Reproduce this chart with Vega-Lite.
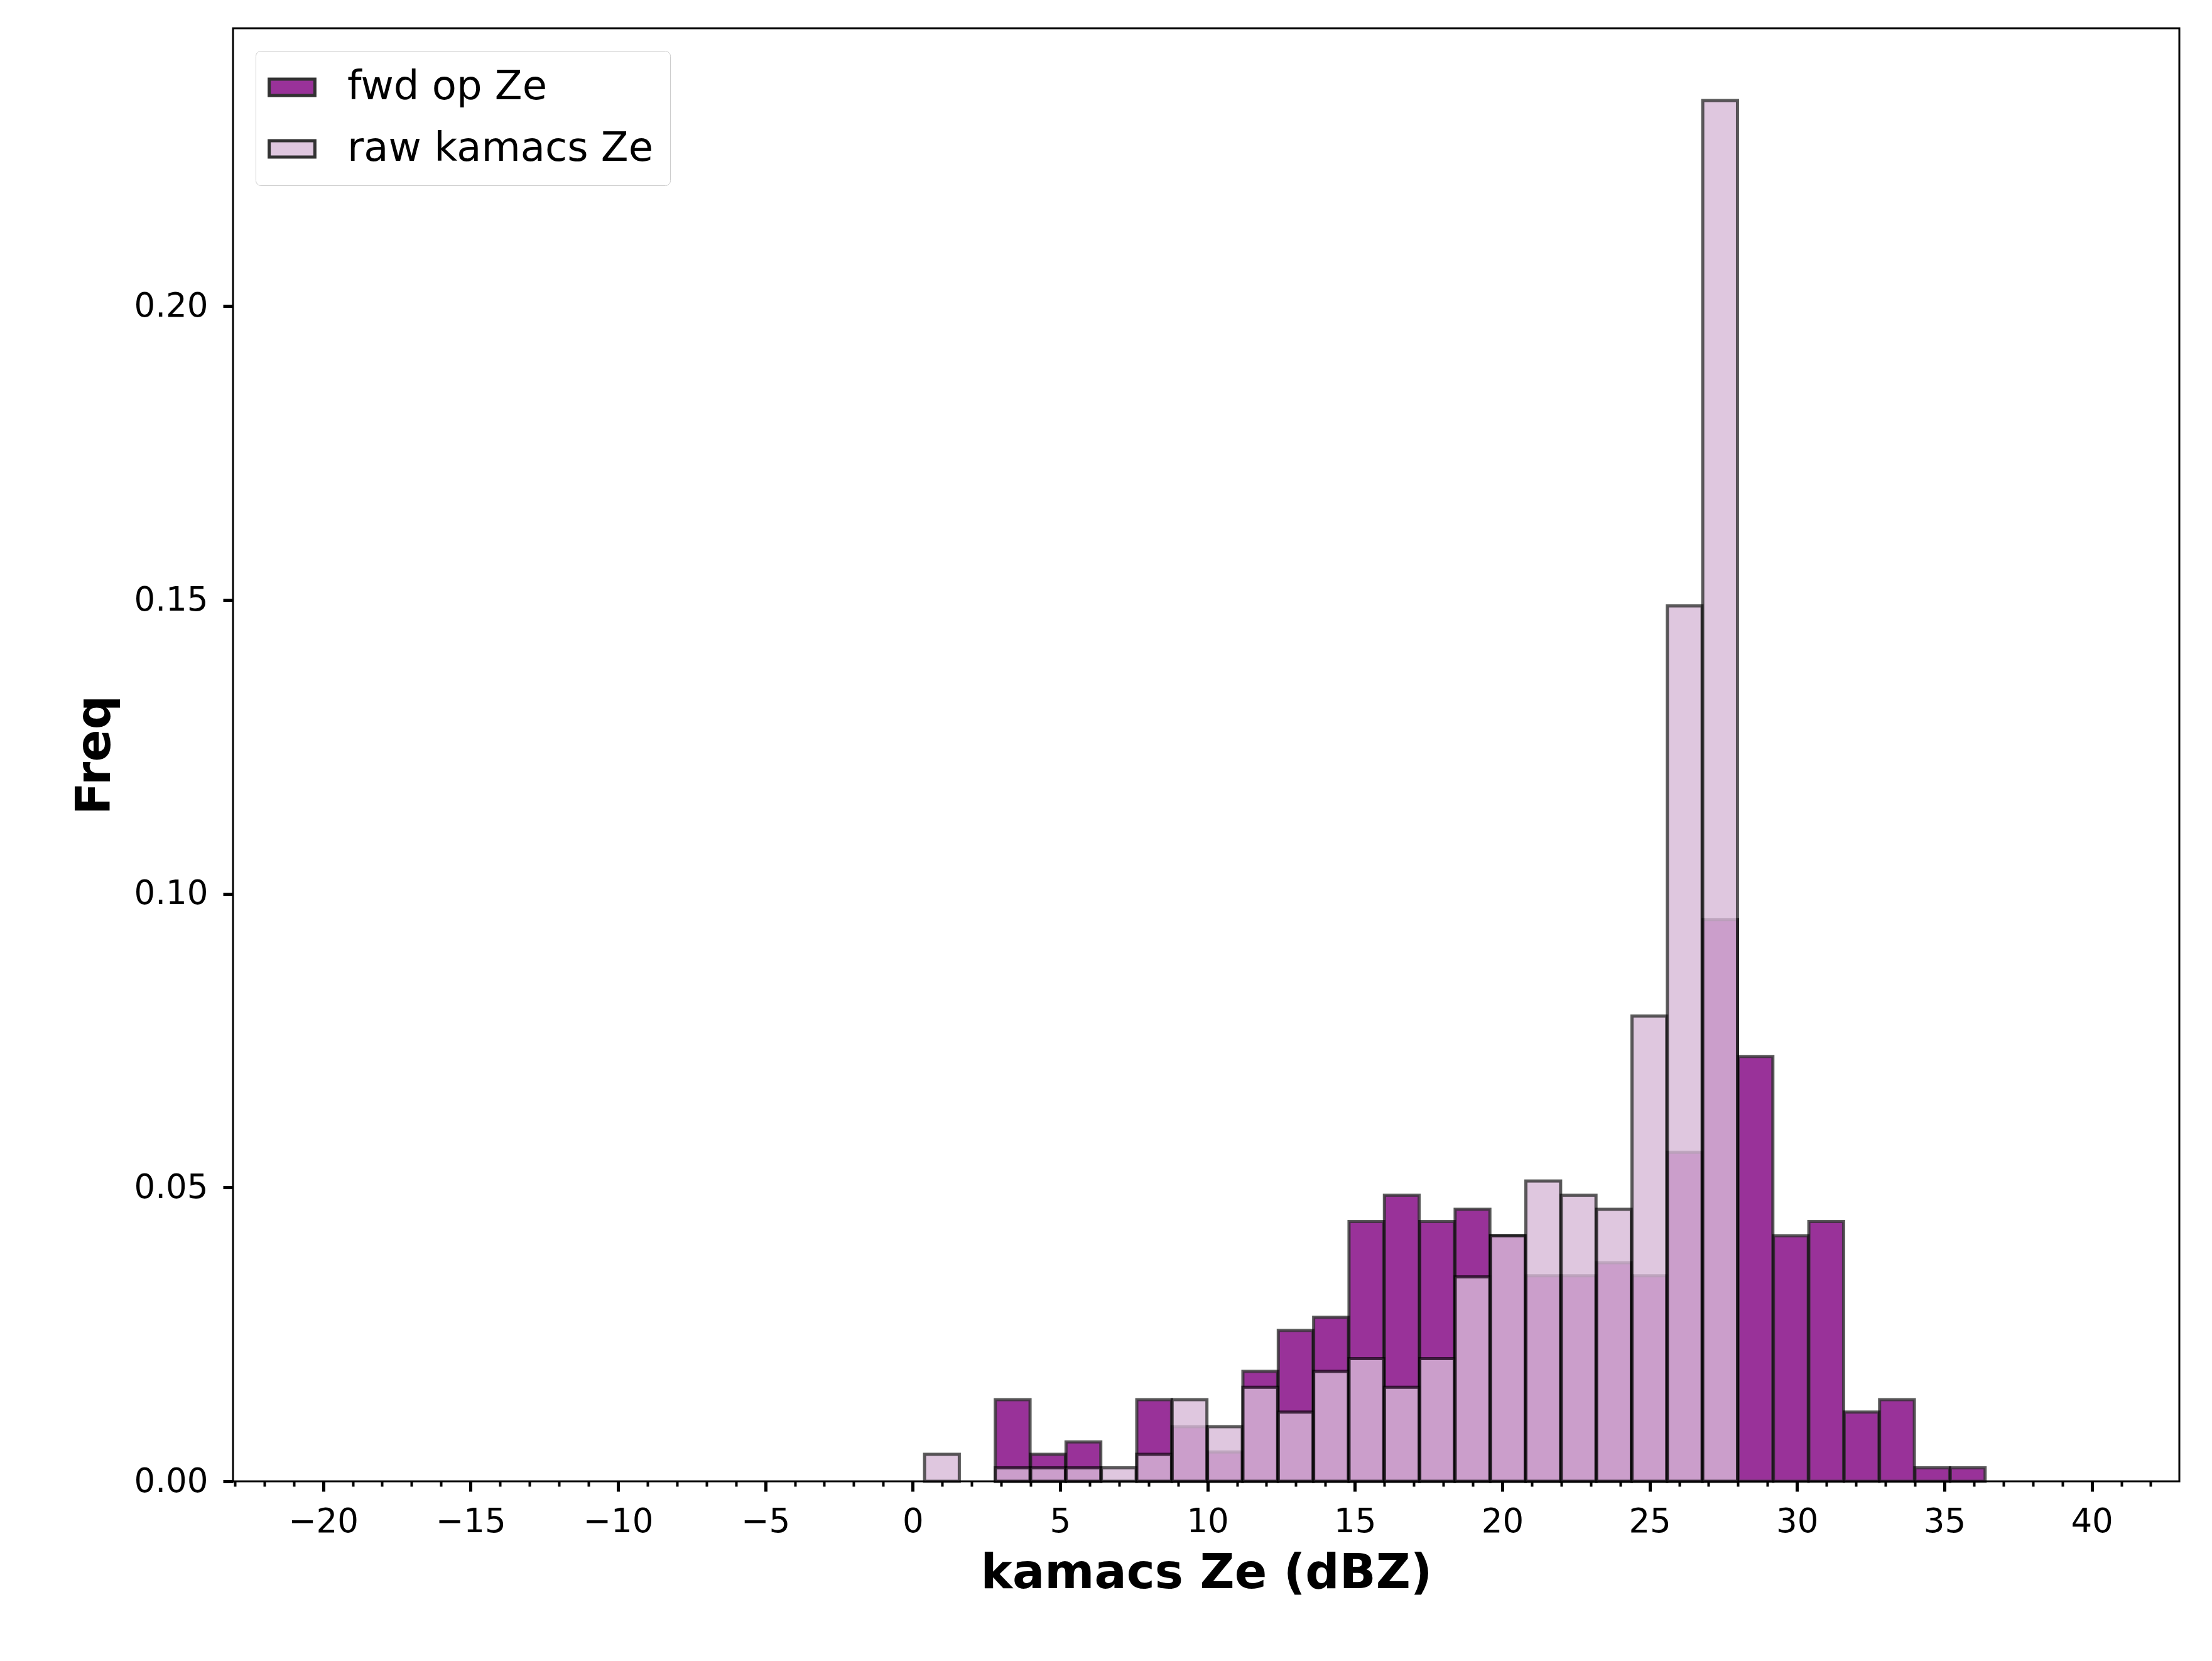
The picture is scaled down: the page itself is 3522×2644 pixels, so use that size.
{
  "$schema": "https://vega.github.io/schema/vega-lite/v6.json",
  "autosize": {"type": "none"},
  "padding": {"left": 371, "top": 45, "right": 52, "bottom": 286},
  "width": 3099,
  "height": 2313,
  "data": {
    "values": [
      {"series": "fwd op Ze", "lo": 2.78, "hi": 3.98, "freq": 0.0139},
      {"series": "fwd op Ze", "lo": 3.98, "hi": 5.18, "freq": 0.0046},
      {"series": "fwd op Ze", "lo": 5.18, "hi": 6.38, "freq": 0.0067},
      {"series": "fwd op Ze", "lo": 7.58, "hi": 8.78, "freq": 0.0139},
      {"series": "fwd op Ze", "lo": 8.78, "hi": 9.98, "freq": 0.0093},
      {"series": "fwd op Ze", "lo": 9.98, "hi": 11.18, "freq": 0.005},
      {"series": "fwd op Ze", "lo": 11.18, "hi": 12.38, "freq": 0.0187},
      {"series": "fwd op Ze", "lo": 12.38, "hi": 13.58, "freq": 0.0257},
      {"series": "fwd op Ze", "lo": 13.58, "hi": 14.78, "freq": 0.0279},
      {"series": "fwd op Ze", "lo": 14.78, "hi": 15.98, "freq": 0.0442},
      {"series": "fwd op Ze", "lo": 15.98, "hi": 17.18, "freq": 0.0487},
      {"series": "fwd op Ze", "lo": 17.18, "hi": 18.38, "freq": 0.0442},
      {"series": "fwd op Ze", "lo": 18.38, "hi": 19.58, "freq": 0.0463},
      {"series": "fwd op Ze", "lo": 19.58, "hi": 20.78, "freq": 0.0418},
      {"series": "fwd op Ze", "lo": 20.78, "hi": 21.98, "freq": 0.035},
      {"series": "fwd op Ze", "lo": 21.98, "hi": 23.18, "freq": 0.035},
      {"series": "fwd op Ze", "lo": 23.18, "hi": 24.38, "freq": 0.0372},
      {"series": "fwd op Ze", "lo": 24.38, "hi": 25.58, "freq": 0.035},
      {"series": "fwd op Ze", "lo": 25.58, "hi": 26.78, "freq": 0.056},
      {"series": "fwd op Ze", "lo": 26.78, "hi": 27.98, "freq": 0.0956},
      {"series": "fwd op Ze", "lo": 27.98, "hi": 29.18, "freq": 0.0723},
      {"series": "fwd op Ze", "lo": 29.18, "hi": 30.38, "freq": 0.0418},
      {"series": "fwd op Ze", "lo": 30.38, "hi": 31.58, "freq": 0.0442},
      {"series": "fwd op Ze", "lo": 31.58, "hi": 32.78, "freq": 0.0118},
      {"series": "fwd op Ze", "lo": 32.78, "hi": 33.98, "freq": 0.0139},
      {"series": "fwd op Ze", "lo": 33.98, "hi": 35.18, "freq": 0.0023},
      {"series": "fwd op Ze", "lo": 35.18, "hi": 36.38, "freq": 0.0023},
      {"series": "raw kamacs Ze", "lo": 0.38, "hi": 1.58, "freq": 0.0046},
      {"series": "raw kamacs Ze", "lo": 2.78, "hi": 3.98, "freq": 0.0023},
      {"series": "raw kamacs Ze", "lo": 3.98, "hi": 5.18, "freq": 0.0023},
      {"series": "raw kamacs Ze", "lo": 5.18, "hi": 6.38, "freq": 0.0023},
      {"series": "raw kamacs Ze", "lo": 6.38, "hi": 7.58, "freq": 0.0023},
      {"series": "raw kamacs Ze", "lo": 7.58, "hi": 8.78, "freq": 0.0046},
      {"series": "raw kamacs Ze", "lo": 8.78, "hi": 9.98, "freq": 0.0139},
      {"series": "raw kamacs Ze", "lo": 9.98, "hi": 11.18, "freq": 0.0093},
      {"series": "raw kamacs Ze", "lo": 11.18, "hi": 12.38, "freq": 0.016},
      {"series": "raw kamacs Ze", "lo": 12.38, "hi": 13.58, "freq": 0.0118},
      {"series": "raw kamacs Ze", "lo": 13.58, "hi": 14.78, "freq": 0.0187},
      {"series": "raw kamacs Ze", "lo": 14.78, "hi": 15.98, "freq": 0.0209},
      {"series": "raw kamacs Ze", "lo": 15.98, "hi": 17.18, "freq": 0.016},
      {"series": "raw kamacs Ze", "lo": 17.18, "hi": 18.38, "freq": 0.0209},
      {"series": "raw kamacs Ze", "lo": 18.38, "hi": 19.58, "freq": 0.0348},
      {"series": "raw kamacs Ze", "lo": 19.58, "hi": 20.78, "freq": 0.0418},
      {"series": "raw kamacs Ze", "lo": 20.78, "hi": 21.98, "freq": 0.0511},
      {"series": "raw kamacs Ze", "lo": 21.98, "hi": 23.18, "freq": 0.0487},
      {"series": "raw kamacs Ze", "lo": 23.18, "hi": 24.38, "freq": 0.0463},
      {"series": "raw kamacs Ze", "lo": 24.38, "hi": 25.58, "freq": 0.0792},
      {"series": "raw kamacs Ze", "lo": 25.58, "hi": 26.78, "freq": 0.149},
      {"series": "raw kamacs Ze", "lo": 26.78, "hi": 27.98, "freq": 0.235}
    ]
  },
  "layer": [
    {
      "transform": [{"filter": "datum.series == 'fwd op Ze'"}],
      "mark": {"type": "bar", "stroke": "black", "strokeOpacity": 0.8, "strokeWidth": 5, "opacity": 0.8},
      "encoding": {
        "x": {
          "field": "lo", "type": "quantitative", "bin": "binned",
          "scale": {"domain": [-23.06, 42.97], "nice": false, "zero": false},
          "axis": {"values": [-20, -15, -10, -5, 0, 5, 10, 15, 20, 25, 30, 35, 40], "orient": "bottom",
                   "title": "kamacs Ze (dBZ)", "grid": false,
                   "labelExpr": "replace(datum.label, '-', '\u2212')",
                   "labelFlush": false, "domain": false, "tickSize": 16, "tickWidth": 5, "tickColor": "black",
                   "labelFontSize": 53, "labelColor": "black", "labelPadding": 22, "titleFontSize": 76, "titleFontWeight": "bold", "titlePadding": 18}
        },
        "x2": {"field": "hi"},
        "y": {
          "field": "freq", "type": "quantitative",
          "scale": {"domain": [0, 0.2473], "nice": false},
          "axis": {"values": [0, 0.05, 0.1, 0.15, 0.2], "format": ".2f", "title": "Freq", "grid": false, "domain": false,
                   "tickSize": 16, "tickWidth": 5, "tickColor": "black", "labelFontSize": 53, "labelColor": "black", "labelPadding": 24,
                   "titleFontSize": 76, "titleFontWeight": "bold", "titlePadding": 22}
        },
        "color": {
          "field": "series", "type": "nominal",
          "scale": {"domain": ["fwd op Ze", "raw kamacs Ze"], "range": ["#800080", "#d8bad8"]},
          "legend": {"title": null, "orient": "top-left", "offset": 36, "symbolType": "M-1.4,-0.5H1.4V0.5H-1.4Z", "symbolSize": 2700,
                     "symbolStrokeColor": "black", "symbolStrokeWidth": 5, "symbolOpacity": 0.8, "labelFontSize": 64, "labelColor": "black",
                     "labelLimit": 0, "rowPadding": 34, "strokeColor": "#cccccc", "cornerRadius": 8, "padding": 26,
                     "fillColor": "white", "labelOffset": 56}
        }
      }
    },
    {
      "transform": [{"filter": "datum.series == 'raw kamacs Ze'"}],
      "mark": {"type": "bar", "stroke": "black", "strokeOpacity": 0.8, "strokeWidth": 5, "opacity": 0.8},
      "encoding": {
        "x": {
          "field": "lo", "type": "quantitative", "bin": "binned",
          "axis": {"values": [-23, -22, -21, -19, -18, -17, -16, -14, -13, -12, -11, -9, -8, -7, -6, -4, -3, -2, -1, 1, 2, 3, 4, 6, 7, 8, 9, 11, 12, 13, 14, 16, 17, 18, 19, 21, 22, 23, 24, 26, 27, 28, 29, 31, 32, 33, 34, 36, 37, 38, 39, 41, 42],
                   "orient": "top", "offset": -2313, "tickSize": -8, "labels": false, "title": null, "grid": false, "domain": false,
                   "tickWidth": 4, "tickColor": "black"}
        },
        "x2": {"field": "hi"},
        "y": {"field": "freq", "type": "quantitative"},
        "color": {"field": "series", "type": "nominal"}
      }
    }
  ],
  "resolve": {"axis": {"x": "independent"}},
  "config": {
    "font": "DejaVu Sans",
    "view": {"stroke": "black", "strokeWidth": 3}
  }
}
